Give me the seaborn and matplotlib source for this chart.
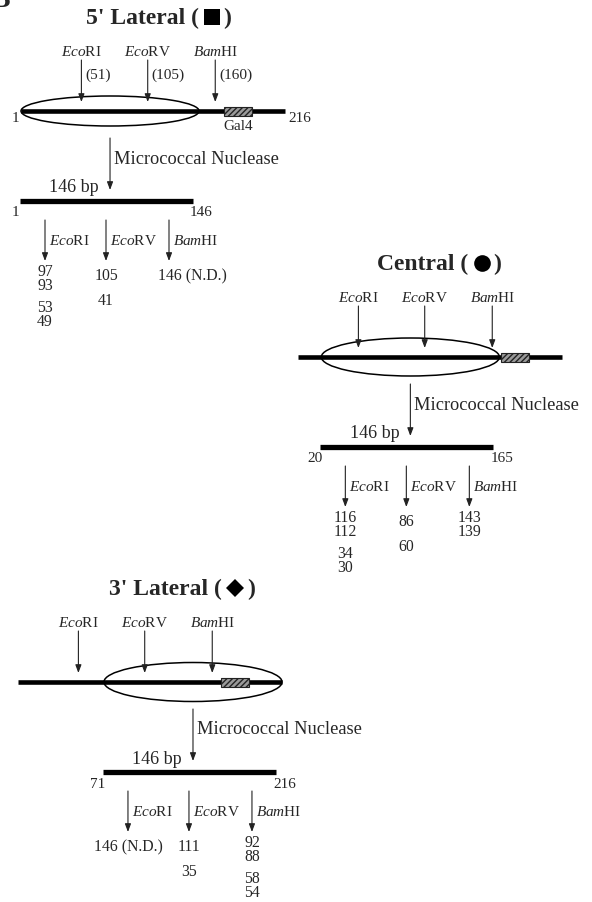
import matplotlib
matplotlib.use("Agg")
import matplotlib.pyplot as plt
from matplotlib.patches import Ellipse, Rectangle
import pandas as pd
import seaborn as sns

# construct (bp) and restriction sites
DNA_LEN = 216
CORE_LEN = 146
site_names = ["EcoRI", "EcoRV", "BamHI"]
site_bp = [51, 105, 160]
gal4_bp = [166, 189]

# nucleosome positions (title, marker used for it in the other panels)
panel_titles = ["5' Lateral", "Central", "3' Lateral"]
panel_marks = ["s", "o", "D"]
nuc_start = [1, 20, 71]

# fragments of the core particle DNA, per enzyme, grouped as doublets
frags_5lat = [[["97", "93"], ["53", "49"]], [["105"], ["41"]], [["146 (N.D.)"]]]
frags_central = [[["116", "112"], ["34", "30"]], [["86"], ["60"]], [["143", "139"]]]
frags_3lat = [[["146 (N.D.)"]], [["111"], ["35"]], [["92", "88"], ["58", "54"]]]
frags = [frags_5lat, frags_central, frags_3lat]

# layout (pixels)
PX_PER_BP = 1.228
x_origin = [21, 298, 18]
line_y = [111, 357, 682]
ell_h = [30, 38, 39]
sym_x = [211.5, 481.5, 235]
sym_ms = [11, 12, 9.5]
sub_dx = [25, 86, 149]
ARROW_C = "#222222"


def bx(i, bp):
    return x_origin[i] + (bp - 1) * PX_PER_BP


def enz_label(name):
    # italic genus part, roman rest
    head, tail = (name[:3], name[3:])
    return r"$\mathit{%s}\mathrm{%s}$" % (head, tail)


def arrow(ax, x, y0, y1):
    ax.annotate("", xy=(x, y1), xytext=(x, y0),
                arrowprops=dict(arrowstyle="-|>,head_length=0.4,head_width=0.15",
                                lw=0.8, color=ARROW_C, shrinkA=0, shrinkB=0))


sns.set_theme(style="white")
plt.rcParams["font.family"] = ["Liberation Serif", "DejaVu Serif"]
plt.rcParams["mathtext.fontset"] = "custom"
plt.rcParams["mathtext.rm"] = "Liberation Serif"
plt.rcParams["mathtext.it"] = "Liberation Serif:italic"

fig = plt.figure(figsize=(5.92, 9.02), dpi=100)
ax = fig.add_axes([0, 0, 1, 1])

# DNA lines (full construct and 146 bp core) as one long table
rows = []
core_ext = []
for i in range(3):
    ly = line_y[i]
    rows += [(bx(i, 1), ly, f"dna{i}"), (bx(i, DNA_LEN), ly, f"dna{i}")]
    c0 = bx(i, nuc_start[i]) - 1
    c1 = c0 + (CORE_LEN - 1) * PX_PER_BP * 0.972
    by = ly + 90
    core_ext.append((c0, c1, by))
df = pd.DataFrame(rows, columns=["x", "y", "seg"])
sns.lineplot(data=df, x="x", y="y", units="seg", estimator=None, sort=False,
             color="black", lw=3.3, solid_capstyle="butt", ax=ax, legend=False)
core_df = pd.DataFrame([(c0, by, f"core{i}") for i, (c0, c1, by) in enumerate(core_ext)]
                       + [(c1, by, f"core{i}") for i, (c0, c1, by) in enumerate(core_ext)],
                       columns=["x", "y", "seg"])
sns.lineplot(data=core_df, x="x", y="y", units="seg", estimator=None, sort=False,
             color="black", lw=3.8, solid_capstyle="butt", ax=ax, legend=False)

for i in range(3):
    ly = line_y[i]
    # title with its marker symbol
    tb = ly - 87
    ax.text(sym_x[i] - 13, tb, panel_titles[i] + " (", ha="right", va="baseline",
            fontsize=17, fontweight="bold")
    ax.text(sym_x[i] + 12, tb, ")", ha="left", va="baseline",
            fontsize=17, fontweight="bold")
    ax.plot([sym_x[i]], [tb - 7], marker=panel_marks[i], ms=sym_ms[i],
            color="black", mew=0, ls="none")

    # nucleosome
    n0, n1 = bx(i, nuc_start[i]), bx(i, nuc_start[i] + CORE_LEN - 1)
    ncx = (n0 + n1) / 2
    ax.add_patch(Ellipse((ncx, ly), n1 - n0, ell_h[i], fill=False, lw=1.1,
                         ec="black", zorder=3))

    # Gal4 box
    g0, g1 = bx(i, gal4_bp[0]), bx(i, gal4_bp[1])
    ax.add_patch(Rectangle((g0, ly - 4.5), g1 - g0, 9.5, facecolor="#9a9a9a",
                           edgecolor="#222222", hatch="//////", lw=0.8, zorder=4))

    # restriction sites
    for name, bp in zip(site_names, site_bp):
        sx = bx(i, bp) - 1
        ax.text(sx, ly - 59, enz_label(name), ha="center", va="center", fontsize=11)
        arrow(ax, sx, ly - 51, ly - 9)
        if i == 0:
            ax.text(sx + 4, ly - 36, f"({bp})", ha="left", va="center", fontsize=11)

    if i == 0:
        ax.text(bx(i, 1) - 6, ly + 7, "1", ha="center", va="center", fontsize=11)
        ax.text(bx(i, DNA_LEN) + 3, ly + 7, str(DNA_LEN), ha="left", va="center",
                fontsize=11)
        ax.text((g0 + g1) / 2, ly + 16, "Gal4", ha="center", va="center", fontsize=11)

    # micrococcal nuclease
    arrow(ax, ncx, ly + 27, ly + 79)
    ax.text(ncx + 4, ly + 48, "Micrococcal Nuclease", ha="left", va="center",
            fontsize=13.2)

    # core particle DNA
    c0, c1, by = core_ext[i]
    ax.text(c0 + 54, by - 13, f"{CORE_LEN} bp", ha="center", va="center", fontsize=13)
    ax.text(c0 - 5, by + 12, str(nuc_start[i]), ha="center", va="center", fontsize=11)
    ax.text(c1 - 3, by + 12, str(nuc_start[i] + CORE_LEN - 1), ha="left",
            va="center", fontsize=11)

    for k, name in enumerate(site_names):
        ax_x = c0 + sub_dx[k]
        arrow(ax, ax_x, by + 19, by + 60)
        ax.text(ax_x + 4, by + 40, enz_label(name), ha="left", va="center", fontsize=11)
        base = by + 71
        for g, group in enumerate(frags[i][k]):
            if len(group) == 2:
                ys = [base + 36 * g, base + 36 * g + 14]
            else:
                ys = [base + 4 + 25 * g]
            for lab, yy in zip(group, ys):
                if "N.D." in lab and i == 0:
                    ax.text(ax_x - 11, yy, lab, ha="left", va="center", fontsize=11.3)
                else:
                    ax.text(ax_x, yy, lab, ha="center", va="center", fontsize=11.3)

# panel letter, mostly off the page
ax.text(10, 13, "B", ha="right", va="bottom", fontsize=20, fontweight="bold")

ax.set_xlim(0, 592)
ax.set_ylim(902, 0)
ax.axis("off")

fig.savefig("out.png", dpi=100)
